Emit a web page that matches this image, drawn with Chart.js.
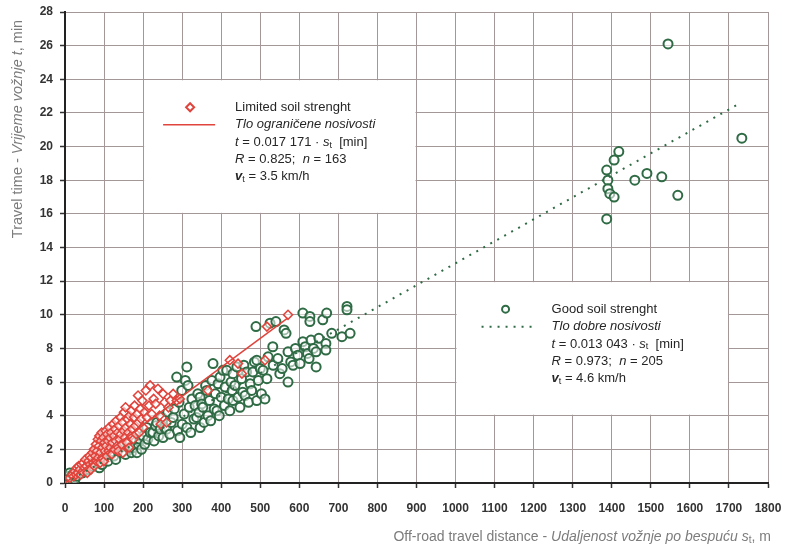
<!DOCTYPE html>
<html>
<head>
<meta charset="utf-8">
<script src="https://cdn.jsdelivr.net/npm/chart.js@4.4.1/dist/chart.umd.min.js"></script>
<style>
  html, body { margin: 0; padding: 0; background: #fff; }
  canvas { display: block; }
</style>
</head>
<body>
<canvas id="travel-chart" width="788" height="548"></canvas>
<script>
// off-road distance s_t [m] vs travel time t [min]
const limitedPoints = [
    [12,0.3],[18,0.5],[22,0.4],[25,0.7],[28,0.5],[30,0.9],[33,0.6],[35,1.0],[38,0.8],[40,0.5],
    [42,1.1],[45,0.7],[47,1.2],[50,0.9],[52,1.4],[55,1.0],[57,0.6],[60,1.3],[62,1.6],[64,1.1],
    [66,0.8],[68,1.5],[70,1.8],[72,1.2],[74,2.0],[75,1.0],[77,1.6],[79,2.3],[80,1.3],[82,1.9],
    [84,2.6],[85,1.5],[87,2.2],[88,2.8],[90,1.2],[91,1.8],[92,2.5],[94,3.0],[95,1.5],[96,2.1],
    [98,2.7],[100,1.3],[101,2.4],[102,1.9],[104,3.1],[105,2.2],[107,1.6],[108,2.9],[110,2.5],[112,1.9],
    [113,3.3],[115,2.7],[116,2.1],[118,3.0],[120,1.7],[121,2.4],[123,3.5],[125,2.8],[126,2.0],[128,3.2],
    [130,2.5],[131,3.7],[133,2.2],[135,3.0],[137,1.9],[138,3.4],[140,2.6],[142,3.9],[143,2.9],[145,2.3],
    [147,3.6],[148,1.8],[150,3.1],[151,4.2],[153,2.7],[155,4.5],[156,3.3],[158,2.4],[160,3.8],[162,3.0],
    [164,2.1],[165,4.0],[167,3.5],[169,2.8],[170,4.3],[172,3.2],[175,2.6],[177,3.9],[178,4.6],[180,3.4],
    [182,2.9],[185,4.1],[187,5.2],[188,3.6],[190,3.0],[193,4.4],[195,3.8],[198,4.9],[200,3.3],[203,4.2],
    [207,5.5],[210,3.9],[215,4.6],[218,5.8],[222,4.1],[227,5.0],[232,4.7],[238,5.6],[242,4.0],[245,3.5],
    [251,5.3],[255,4.8],[260,3.6],[265,4.5],[270,4.9],[277,5.3],[286,4.9],[294,5.0],[366,5.5],[422,7.3],
    [443,7.1],[453,6.5],[512,7.3],[517,9.3],[571,10.0]
];
const goodPoints = [
    [5,0.2],[8,0.4],[12,0.6],[15,0.3],[20,0.5],[25,0.2],[30,0.4],[45,0.6],[60,0.8],[70,1.0],
    [80,1.2],[88,0.9],[95,1.1],[100,1.5],[110,1.3],[118,1.7],[125,1.6],[130,1.4],[138,2.0],[145,1.8],
    [150,2.2],[155,1.7],[160,2.4],[165,2.0],[170,1.8],[174,2.1],[180,2.6],[184,1.8],[188,2.3],[192,2.6],
    [196,2.0],[200,2.8],[204,2.3],[209,3.3],[212,2.6],[218,3.0],[225,3.0],[228,2.5],[232,3.4],[235,3.6],
    [240,2.8],[244,3.2],[248,3.9],[251,2.7],[255,3.3],[260,3.2],[263,4.2],[268,2.9],[272,3.6],[277,3.9],
    [280,4.4],[286,6.3],[288,3.1],[292,4.8],[294,2.7],[299,5.5],[300,3.5],[305,4.1],[308,6.1],[312,6.9],
    [312,3.3],[315,5.8],[318,4.5],[322,3.0],[325,5.0],[330,3.8],[333,4.6],[337,3.9],[340,5.3],[343,4.2],
    [346,3.3],[346,5.1],[350,4.7],[353,4.5],[356,3.6],[360,5.8],[363,5.5],[366,4.0],[370,4.9],[373,3.7],
    [376,6.1],[379,7.1],[382,4.4],[385,5.3],[389,4.3],[392,5.9],[395,4.0],[397,6.3],[400,5.1],[404,6.7],
    [408,4.6],[410,5.7],[414,6.7],[418,5.0],[422,4.3],[425,6.0],[428,5.5],[430,6.5],[430,4.9],[435,5.8],
    [440,6.9],[443,5.1],[448,4.5],[452,6.2],[455,5.4],[458,7.0],[461,5.2],[465,6.6],[470,4.8],[474,5.9],
    [478,5.5],[481,6.6],[485,7.2],[489,9.3],[491,4.9],[491,7.3],[495,6.1],[500,6.8],[503,5.3],[507,6.7],
    [512,5.0],[517,6.2],[520,7.5],[525,9.5],[532,8.1],[533,7.0],[540,9.6],[545,7.4],[550,6.5],[556,6.8],
    [561,9.1],[566,8.9],[571,7.8],[571,6.0],[578,7.2],[584,7.0],[590,8.0],[596,7.6],[602,7.1],[609,8.4],
    [609,10.1],[615,8.1],[621,7.7],[625,7.4],[627,9.9],[627,9.6],[630,8.5],[636,8.0],[643,7.8],[643,6.9],
    [650,8.6],[660,9.7],[668,8.3],[668,7.9],[670,10.1],[683,8.9],[709,8.7],[722,10.5],[722,10.3],[730,8.9],
    [1387,15.7],[1387,18.6],[1390,18.0],[1390,17.5],[1395,17.2],[1406,17.0],[1406,19.2],[1418,19.7],[1459,18.0],[1490,18.4],
    [1528,18.2],[1544,26.1],[1569,17.1],[1733,20.5]
];
// regression lines, ends as drawn
const limitedFit = [[0,0],[570,9.8]];
const goodFit = [[0,0],[1730,22.6]];

const xTicks = [0,100,200,300,400,500,600,700,800,900,1000,1100,1200,1300,1400,1500,1600,1700,1800];
const yTicks = [0,2,4,6,8,10,12,14,16,18,20,22,24,26,28];

// legend boxes sit on the grid: [x0, x1, y0, y1] in data units
const limitedBox = [200, 900, 16, 24];
const goodBox = [1000, 1700, 4, 12];

const limitedLegend = [
    [{ t: 'Limited soil strenght' }],
    [{ t: 'Tlo ograničene nosivosti', i: true }],
    [{ t: 't', i: true }, { t: ' = 0.017 171 · ' }, { t: 's', i: true }, { t: 't', sub: true }, { t: '  [min]' }],
    [{ t: 'R', i: true }, { t: ' = 0.825;  ' }, { t: 'n', i: true }, { t: ' = 163' }],
    [{ t: 'v', i: true, b: true }, { t: 't', sub: true }, { t: ' = 3.5 km/h' }]
];
const goodLegend = [
    [{ t: 'Good soil strenght' }],
    [{ t: 'Tlo dobre nosivosti', i: true }],
    [{ t: 't', i: true }, { t: ' = 0.013 043 · ' }, { t: 's', i: true }, { t: 't', sub: true }, { t: '  [min]' }],
    [{ t: 'R', i: true }, { t: ' = 0.973;  ' }, { t: 'n', i: true }, { t: ' = 205' }],
    [{ t: 'v', i: true, b: true }, { t: 't', sub: true }, { t: ' = 4.6 km/h' }]
];

const xTitle = [
    { t: 'Off-road travel distance - ' },
    { t: 'Udaljenost vožnje po bespuću s', i: true },
    { t: 't', sub: true },
    { t: ', m' }
];
const yTitle = [
    { t: 'Travel time - ' },
    { t: 'Vrijeme vožnje t', i: true },
    { t: ', min' }
];

const RED = '#e0443c';
const GREEN = '#2f6b45';
const FONT = '"Liberation Sans", Arial, sans-serif';

const toXY = arr => arr.map(([x, y]) => ({ x, y }));

function segFont(seg, size) {
    const s = seg.sub ? Math.round(size * 0.7) : size;
    return (seg.i ? 'italic ' : '') + (seg.b ? 'bold ' : '') + s + 'px ' + FONT;
}

function richWidth(ctx, segs, size) {
    return segs.reduce((w, seg) => {
        ctx.font = segFont(seg, size);
        return w + ctx.measureText(seg.t).width;
    }, 0);
}

function drawRich(ctx, x, y, segs, size) {
    ctx.textBaseline = 'middle';
    ctx.textAlign = 'left';
    segs.forEach(seg => {
        ctx.font = segFont(seg, size);
        ctx.fillText(seg.t, x, seg.sub ? y + 3 : y);
        x += ctx.measureText(seg.t).width;
    });
}

function drawLegendBox(chart, box, lines, kind) {
    const { ctx, scales: { x, y } } = chart;
    const left = x.getPixelForValue(box[0]);
    const right = x.getPixelForValue(box[1]);
    const top = y.getPixelForValue(box[3]);
    const bottom = y.getPixelForValue(box[2]);

    ctx.save();
    ctx.fillStyle = '#fff';
    ctx.fillRect(left + 1, top + 1, right - left - 2, bottom - top - 2);

    // marker
    const mx = left + 47, my = top + 28;
    ctx.lineWidth = 2;
    if (kind === 'limited') {
        ctx.strokeStyle = RED;
        ctx.beginPath();
        ctx.moveTo(mx, my - 4); ctx.lineTo(mx + 4, my); ctx.lineTo(mx, my + 4); ctx.lineTo(mx - 4, my);
        ctx.closePath();
        ctx.stroke();
        ctx.lineWidth = 1.5;
        ctx.beginPath();
        ctx.moveTo(left + 20, top + 45.5); ctx.lineTo(left + 72, top + 45.5);
        ctx.stroke();
    } else {
        ctx.strokeStyle = GREEN;
        ctx.beginPath();
        ctx.arc(mx + 3, my, 3.5, 0, Math.PI * 2);
        ctx.stroke();
        ctx.setLineDash([2, 6]);
        ctx.lineWidth = 2;
        ctx.beginPath();
        ctx.moveTo(left + 26, top + 45.5); ctx.lineTo(left + 78, top + 45.5);
        ctx.stroke();
        ctx.setLineDash([]);
    }

    ctx.fillStyle = '#262626';
    const tx = kind === 'limited' ? left + 92 : left + 96;
    lines.forEach((segs, k) => drawRich(ctx, tx, top + 28 + k * 17.4, segs, 13));
    ctx.restore();
}

const extrasPlugin = {
    id: 'extras',
    beforeDatasetsDraw(chart) {
        drawLegendBox(chart, limitedBox, limitedLegend, 'limited');
        drawLegendBox(chart, goodBox, goodLegend, 'good');
    },
    afterDraw(chart) {
        const ctx = chart.ctx;
        ctx.save();
        ctx.fillStyle = '#7c7c7c';
        // x title, right aligned under the axis
        const wx = richWidth(ctx, xTitle, 14);
        drawRich(ctx, 771 - wx, 537, xTitle, 14);
        // y title, rotated
        const wy = richWidth(ctx, yTitle, 14.5);
        ctx.translate(18, 129);
        ctx.rotate(-Math.PI / 2);
        drawRich(ctx, -wy / 2, 0, yTitle, 14.5);
        ctx.restore();
    }
};

const axisCommon = {
    type: 'linear',
    grid: {
        color: '#a39797',
        lineWidth: 1,
        tickColor: '#333',
        tickLength: 5,
        tickWidth: 1.5
    },
    border: { display: true, color: '#222', width: 2 },
    ticks: {
        color: '#333',
        font: { family: FONT, size: 12, weight: 'bold' },
        autoSkip: false,
        callback: v => String(v)
    }
};

new Chart(document.getElementById('travel-chart'), {
    type: 'scatter',
    data: {
        datasets: [
            {
                label: 'Limited soil fit',
                type: 'line',
                data: toXY(limitedFit),
                borderColor: RED,
                borderWidth: 1.5,
                pointRadius: 0,
                fill: false,
                order: 0
            },
            {
                label: 'Good soil fit',
                type: 'line',
                data: toXY(goodFit),
                borderColor: GREEN,
                borderWidth: 2,
                borderDash: [2, 6],
                pointRadius: 0,
                fill: false,
                order: 0
            },
            {
                label: 'Limited soil strenght',
                data: toXY(limitedPoints),
                pointStyle: 'rectRot',
                pointRadius: 4.5,
                pointBorderWidth: 1.6,
                borderColor: RED,
                backgroundColor: 'rgba(255,255,255,0.55)',
                order: 1
            },
            {
                label: 'Good soil strenght',
                data: toXY(goodPoints),
                pointStyle: 'circle',
                pointRadius: 4.5,
                pointBorderWidth: 2,
                borderColor: GREEN,
                backgroundColor: 'rgba(255,255,255,0.55)',
                order: 2
            }
        ]
    },
    options: {
        responsive: false,
        animation: false,
        events: [],
        layout: { padding: { left: 0, right: 20, top: 12, bottom: 0 } },
        plugins: { legend: { display: false }, tooltip: { enabled: false } },
        scales: {
            x: {
                ...axisCommon,
                min: 0,
                max: 1800,
                afterBuildTicks: axis => { axis.ticks = xTicks.map(v => ({ value: v })); },
                afterFit: axis => {
                    axis.height = 65;
                    axis.paddingLeft = 0;
                    axis.paddingRight = 0;
                },
                ticks: { ...axisCommon.ticks, padding: 13, maxRotation: 0 }
            },
            y: {
                ...axisCommon,
                min: 0,
                max: 28,
                afterBuildTicks: axis => { axis.ticks = yTicks.map(v => ({ value: v })); },
                afterFit: axis => {
                    axis.width = 65;
                    axis.paddingTop = 0;
                    axis.paddingBottom = 0;
                },
                ticks: { ...axisCommon.ticks, padding: 7 }
            }
        }
    },
    plugins: [extrasPlugin]
});
</script>
</body>
</html>
